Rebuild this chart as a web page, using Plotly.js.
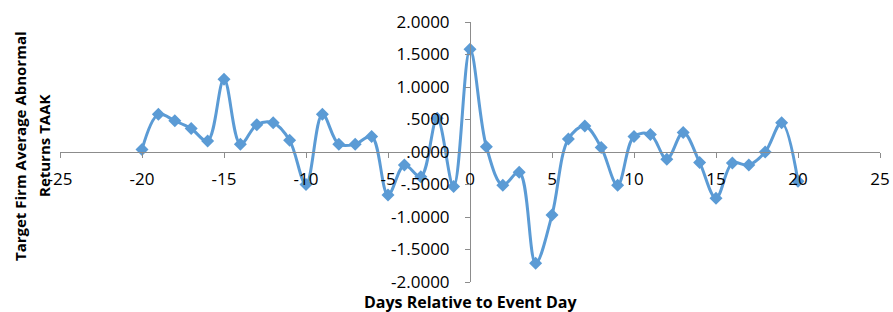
<!DOCTYPE html>
<html>
<head>
<meta charset="utf-8">
<script src="https://cdn.plot.ly/plotly-3.0.1.min.js"></script>
<style>html,body{margin:0;padding:0;background:#fff}#chart{width:893px;height:312px}</style>
</head>
<body>
<div id="chart"></div>
<script>
const days = [-20,-19,-18,-17,-16,-15,-14,-13,-12,-11,-10,-9,-8,-7,-6,-5,-4,-3,-2,-1,0,1,2,3,4,5,6,7,8,9,10,11,12,13,14,15,16,17,18,19,20];
const taak = [0.04,0.58,0.48,0.36,0.17,1.12,0.12,0.42,0.45,0.18,-0.50,0.58,0.12,0.12,0.24,-0.66,-0.20,-0.38,0.52,-0.53,1.58,0.08,-0.51,-0.31,-1.71,-0.97,0.20,0.40,0.07,-0.51,0.24,0.27,-0.11,0.30,-0.16,-0.71,-0.17,-0.20,0.00,0.45,-0.45];
const xTickVals = [-25,-20,-15,-10,-5,0,5,10,15,20,25];
const xTickText = ['-25','-20','-15','-10','-5','0','5','10','15','20','25'];
const yTickVals = [-2,-1.5,-1,-0.5,0,0.5,1,1.5,2];
const yTickText = ['-2.0000','-1.5000','-1.0000','-.5000','.0000','.5000','1.0000','1.5000','2.0000'];
const xTitle = 'Days Relative to Event Day';
const yTitleLines = ['Target Firm Average Abnormal', 'Returns TAAK'];

const axisColor = '#8c8c8c';
const tickFont = {family: 'Open Sans, sans-serif', size: 17, color: '#000'};
const xTitleFont = {family: 'Open Sans, sans-serif', size: 16, color: '#000', weight: 'bold'};
const yTitleFont = {family: 'Open Sans, sans-serif', size: 15, color: '#000', weight: 'bold'};

const trace = {
  x: days, y: taak, type: 'scatter', mode: 'lines+markers',
  line: {color: '#5B9BD5', width: 3, shape: 'spline', smoothing: 1},
  marker: {symbol: 'diamond', size: 10, color: '#5B9BD5'},
  hoverinfo: 'x+y'
};

const layout = {
  width: 893, height: 312,
  margin: {l: 60, r: 13, t: 22, b: 30, pad: 0},
  paper_bgcolor: '#fff', plot_bgcolor: '#fff',
  showlegend: false,
  xaxis: {
    range: [-25, 25], anchor: 'free', position: 0.5,
    showgrid: false, zeroline: false, showline: true, linecolor: axisColor, linewidth: 1,
    ticks: 'outside', ticklen: 5, tickcolor: axisColor, tickwidth: 1,
    tickvals: xTickVals, ticktext: xTickText, tickfont: tickFont, ticklabelstandoff: 7
  },
  yaxis: {
    range: [-2, 2], anchor: 'free', position: 0.5,
    showgrid: false, zeroline: false, showline: true, linecolor: axisColor, linewidth: 1,
    ticks: 'outside', ticklen: 5, tickcolor: axisColor, tickwidth: 1,
    tickvals: yTickVals, ticktext: yTickText, tickfont: tickFont, ticklabelstandoff: 12
  },
  annotations: [
    {text: xTitle, xref: 'paper', yref: 'paper', x: 0.5, y: 0, yshift: -20,
     xanchor: 'center', yanchor: 'middle', showarrow: false, font: xTitleFont, borderpad: 0},
    {text: yTitleLines[0], xref: 'paper', yref: 'paper', x: 0, xshift: -40, y: 0.523,
     xanchor: 'center', yanchor: 'middle', textangle: -90, showarrow: false, font: yTitleFont},
    {text: yTitleLines[1], xref: 'paper', yref: 'paper', x: 0, xshift: -16, y: 0.523,
     xanchor: 'center', yanchor: 'middle', textangle: -90, showarrow: false, font: yTitleFont}
  ]
};
Plotly.newPlot('chart', [trace], layout, {displayModeBar: false, staticPlot: true});
</script>
</body>
</html>
